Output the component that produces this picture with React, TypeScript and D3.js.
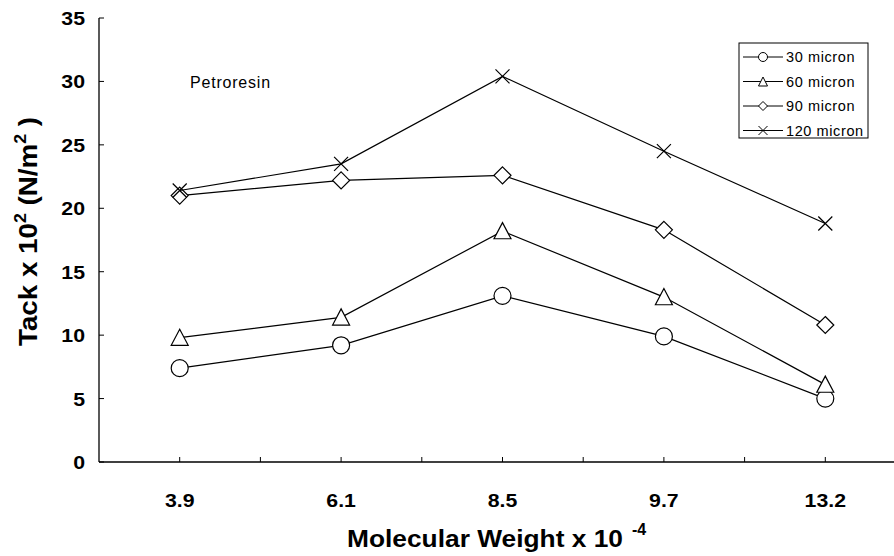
import React from 'react';
import * as d3 from 'd3';

const W = 894;
const H = 556;
const margin = { top: 18, right: -12, bottom: 94, left: 99 };

const categories = ['3.9', '6.1', '8.5', '9.7', '13.2'];
const seriesNames = ['30 micron', '60 micron', '90 micron', '120 micron'];
const micron30 = [7.4, 9.2, 13.1, 9.9, 5.0];
const micron60 = [9.8, 11.4, 18.2, 13.0, 6.1];
const micron90 = [21.0, 22.2, 22.6, 18.3, 10.8];
const micron120 = [21.4, 23.5, 30.4, 24.5, 18.8];
const yTicks = [0, 5, 10, 15, 20, 25, 30, 35];

const series = [
  { name: seriesNames[0], values: micron30, marker: 'circle' },
  { name: seriesNames[1], values: micron60, marker: 'triangle' },
  { name: seriesNames[2], values: micron90, marker: 'diamond' },
  { name: seriesNames[3], values: micron120, marker: 'cross' },
];

const font = '"Liberation Sans", Arial, Helvetica, sans-serif';

function Marker({ type, x, y }: { type: string; x: number; y: number }) {
  const s = 8.5;
  const common = { fill: '#fff', stroke: '#000', strokeWidth: 1.2 };
  if (type === 'circle') return <circle cx={x} cy={y} r={s} {...common} />;
  if (type === 'triangle')
    return <path d={`M${x},${y - s}L${x + s},${y + s * 0.9}L${x - s},${y + s * 0.9}Z`} {...common} />;
  if (type === 'diamond')
    return <path d={`M${x},${y - s}L${x + s},${y}L${x},${y + s}L${x - s},${y}Z`} {...common} />;
  const c = 7;
  return (
    <path d={`M${x - c},${y - c}L${x + c},${y + c}M${x - c},${y + c}L${x + c},${y - c}`}
      stroke="#000" strokeWidth={1.2} fill="none" />
  );
}

function LegendMarker({ type, x, y }: { type: string; x: number; y: number }) {
  const s = 4.5;
  const common = { fill: '#fff', stroke: '#000', strokeWidth: 1 };
  if (type === 'circle') return <circle cx={x} cy={y} r={s} {...common} />;
  if (type === 'triangle')
    return <path d={`M${x},${y - s}L${x + s},${y + s}L${x - s},${y + s}Z`} {...common} />;
  if (type === 'diamond')
    return <path d={`M${x},${y - s}L${x + s},${y}L${x},${y + s}L${x - s},${y}Z`} {...common} />;
  return (
    <path d={`M${x - s},${y - s}L${x + s},${y + s}M${x - s},${y + s}L${x + s},${y - s}`}
      stroke="#000" strokeWidth={1} fill="none" />
  );
}

// bold labels in the original are a little wider than Arial, so stretch them
function Wide({ x, y, sx = 1.12, anchor = 'start', size, children }: any) {
  return (
    <g transform={`translate(${x},${y}) scale(${sx},1)`}>
      <text textAnchor={anchor} fontSize={size} fontWeight="bold">{children}</text>
    </g>
  );
}

export default function App() {
  const x = d3.scaleBand<string>()
    .domain(categories)
    .range([margin.left, W - margin.right])
    .padding(0);
  const y = d3.scaleLinear()
    .domain([0, 35])
    .range([H - margin.bottom, margin.top]);

  const cx = (c: string) => (x(c) as number) + x.bandwidth() / 2;
  const line = d3.line<number>()
    .x((d, i) => cx(categories[i]))
    .y((d) => y(d));

  const y0 = y(0);
  const bandEdges = categories.slice(1).map((c) => x(c) as number);

  const legendX = 739;
  const legendY = 43;

  return (
    <svg width={W} height={H} style={{ position: 'absolute', left: 0, top: 0, background: '#fff' }}
      fontFamily={font}>
      <rect x={0} y={0} width={W} height={H} fill="#fff" />

      {/* axes */}
      <line x1={margin.left} x2={margin.left} y1={y(35)} y2={y0} stroke="#000" strokeWidth={1.3} />
      <line x1={margin.left} x2={W} y1={y0} y2={y0} stroke="#000" strokeWidth={1.3} />
      {yTicks.map((t) => (
        <g key={t}>
          <line x1={margin.left} x2={margin.left + 5} y1={y(t)} y2={y(t)} stroke="#000" strokeWidth={1} />
          <Wide x={85} y={y(t) + 7} anchor="end" size={19}>{t}</Wide>
        </g>
      ))}
      {categories.map((c) => (
        <g key={c}>
          <line x1={cx(c)} x2={cx(c)} y1={y0} y2={y0 - 5} stroke="#000" strokeWidth={1} />
          <Wide x={cx(c)} y={507} anchor="middle" size={19}>{c}</Wide>
        </g>
      ))}
      {bandEdges.map((e, i) => (
        <line key={i} x1={e} x2={e} y1={y0} y2={y0 - 5} stroke="#000" strokeWidth={1} />
      ))}

      {/* axis titles */}
      <text x={347} y={547} fontSize={24} fontWeight="bold" textLength={276}
        lengthAdjust="spacingAndGlyphs">Molecular Weight x 10</text>
      <text x={632} y={535} fontSize={16} fontWeight="bold">-4</text>

      <g transform="translate(37,346) rotate(-90) scale(1.11,1)">
        <text fontSize={25} fontWeight="bold">
          Tack x 10<tspan dy={-11} fontSize={16}>2</tspan>
          <tspan dy={11}> (N/m</tspan><tspan dy={-11} fontSize={16}>2</tspan>
          <tspan dy={11}> )</tspan>
        </text>
      </g>

      <text x={190} y={88} fontSize={16} letterSpacing={0.8}>Petroresin</text>

      {/* series */}
      {series.map((s) => (
        <g key={s.name}>
          <path d={line(s.values) || ''} fill="none" stroke="#000" strokeWidth={1.2} />
          {s.values.map((v, i) => (
            <Marker key={i} type={s.marker} x={cx(categories[i])} y={y(v)} />
          ))}
        </g>
      ))}

      {/* legend */}
      <rect x={legendX} y={legendY} width={129} height={95} fill="#fff" stroke="#000" strokeWidth={1} />
      {series.map((s, i) => {
        const ly = legendY + 14 + i * 24.5;
        return (
          <g key={s.name}>
            <line x1={legendX + 4} x2={legendX + 44} y1={ly} y2={ly} stroke="#000" strokeWidth={1} />
            <LegendMarker type={s.marker} x={legendX + 24} y={ly} />
            <text x={legendX + 47} y={ly} dy="0.36em" fontSize={14.5} letterSpacing={0.6}>{s.name}</text>
          </g>
        );
      })}
    </svg>
  );
}
